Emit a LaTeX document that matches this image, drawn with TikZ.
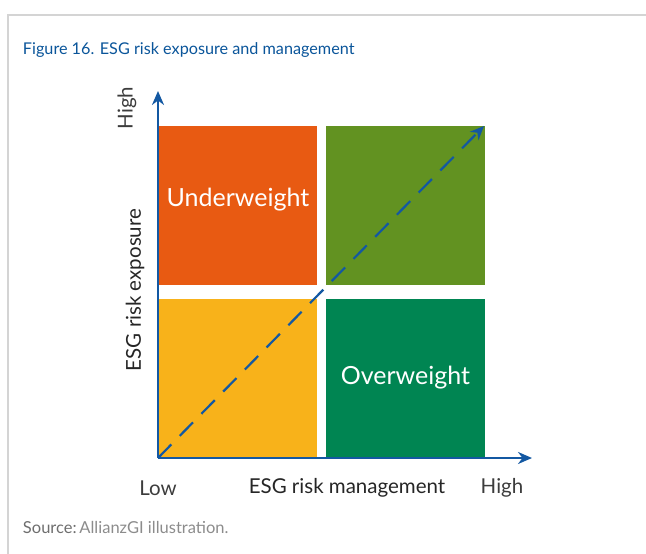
\documentclass[tikz,border=0pt]{standalone}
\usepackage{fontspec}
\setmainfont{Lato}
\usetikzlibrary{arrows.meta}
\definecolor{cD4D4D4}{RGB}{212,212,212}
\definecolor{c0A559A}{RGB}{10,85,154}
\definecolor{c1358A2}{RGB}{19,88,162}
\definecolor{cE85A12}{RGB}{232,90,18}
\definecolor{c629221}{RGB}{98,146,33}
\definecolor{cF8B21A}{RGB}{248,178,26}
\definecolor{c008552}{RGB}{0,133,82}
\definecolor{c3C3C3C}{RGB}{60,60,60}
\definecolor{c6E6E6E}{RGB}{110,110,110}
\definecolor{c8C8C8C}{RGB}{140,140,140}

\tikzset{
  quad/.style={minimum width=159pt, minimum height=159pt, text=white,
    font=\fontsize{25}{28}\selectfont},
  axis/.style={draw=c1358A2, line width=2.4pt, -{Stealth[length=14pt,width=12pt]}},
  lbl/.style={text=c3C3C3C, font=\fontsize{20.5}{24}\selectfont}
}

\begin{document}
\begin{tikzpicture}[y=1pt, x=1pt, yscale=-1, inner sep=0pt, outer sep=0pt]
  \useasboundingbox (0,0) rectangle (646,554);
  % frame
  \path[draw=cD4D4D4, line width=2.2pt] (8,554) -- (8,15) -- (646,15);
  \node[anchor=west, text=c0A559A, font=\fontsize{16.2}{20}\selectfont] (title)
    at (23,50) {Figure 16. ESG risk exposure and management};

  % quadrants
  \node[quad, fill=cE85A12] (under) at (237.5,205.5) {};
  \node[quad, fill=c629221] (topright) at (405.5,205.5) {};
  \node[quad, fill=cF8B21A] (bottomleft) at (237.5,378) {};
  \node[quad, fill=c008552] (over) at (405.5,378) {Overweight};
  \node[quad, minimum width=0pt, minimum height=0pt] (underlbl) at (238,200) {Underweight};

  % axes
  \coordinate (origin) at (158,458);
  \coordinate (ytip) at (158,91);
  \coordinate (xtip) at (532,458);
  \coordinate (dtip) at (484,126);
  \draw[axis] (origin) -- (ytip);
  \draw[axis] (origin) -- (xtip);
  \draw[axis, line width=2.2pt, dash pattern=on 19pt off 12pt] (origin) -- (dtip);

  % labels
  \node[lbl, rotate=90] (yhigh) at (127,108) {High};
  \node[lbl, rotate=90, text=black!85] (ylabel) at (135,290) {ESG risk exposure};
  \node[lbl] (xlow) at (158,488) {Low};
  \node[lbl, text=black!85] (xlabel) at (347,488) {ESG risk management};
  \node[lbl] (xhigh) at (502,488) {High};

  \node[anchor=west, font=\fontsize{16.5}{19}\selectfont] (source) at (23,527)
    {\textcolor{c6E6E6E}{Source:}\,\textcolor{c8C8C8C}{AllianzGI illustration.}};
\end{tikzpicture}
\end{document}
